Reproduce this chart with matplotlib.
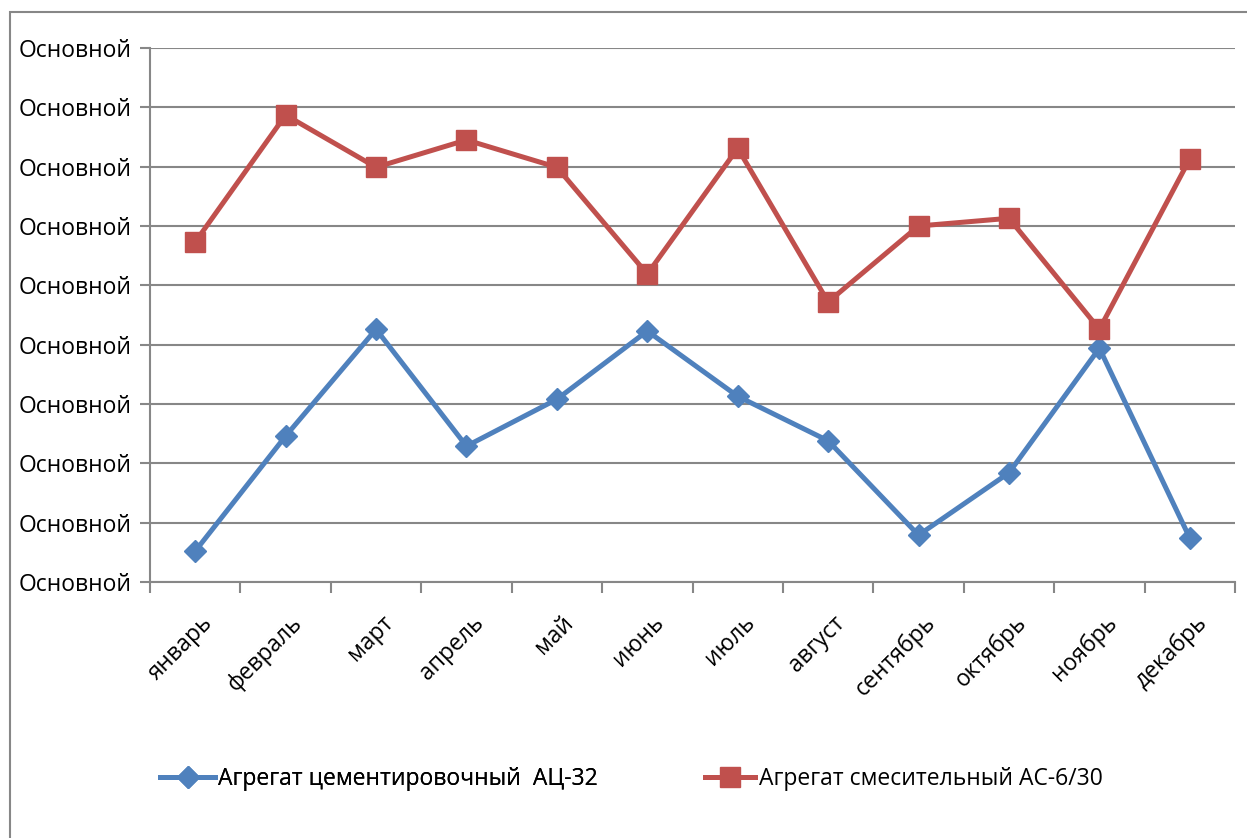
import numpy as np
import matplotlib.pyplot as plt
import matplotlib.transforms as mtransforms
from matplotlib.patches import Rectangle

months = ["январь", "февраль", "март", "апрель", "май", "июнь",
          "июль", "август", "сентябрь", "октябрь", "ноябрь", "декабрь"]
ac32 = [0.52, 2.46, 4.26, 2.29, 3.08, 4.23, 3.13, 2.38, 0.79, 1.84, 3.94, 0.74]
ac630 = [5.73, 7.87, 6.99, 7.45, 6.99, 5.19, 7.31, 4.72, 6.00, 6.13, 4.26, 7.13]
ytick_vals = list(range(10))
ytick_text = ["Основной"] * 10
labels = ["Агрегат цементировочный  АЦ-32", "Агрегат смесительный АС-6/30"]

plt.rcParams['font.family'] = ['Open Sans', 'DejaVu Sans']
grey = '#878787'
fs = 16.5

fig = plt.figure(figsize=(12.47, 8.38), dpi=100)
ax = fig.add_axes([150/1247, 1 - 582/838, (1235-150)/1247, (582-48)/838])

x = np.arange(len(months))
l1, = ax.plot(x, ac32, color='#4F81BD', lw=3.6, marker='D', markersize=11.5,
              solid_joinstyle='round')
l2, = ax.plot(x, ac630, color='#C0504D', lw=3.6, marker='s', markersize=14,
              solid_joinstyle='round')

ax.set_xlim(-0.5, len(months) - 0.5)
ax.set_ylim(0, 9)
ax.set_yticks(ytick_vals)
ax.set_yticklabels(ytick_text, fontsize=fs)
ax.yaxis.grid(True, color=grey, lw=1.5)
ax.set_axisbelow(True)

ax.set_xticks(x)
ax.set_xticklabels(months, rotation=45, ha='right', rotation_mode='anchor', fontsize=fs)
ax.set_xticks(np.arange(-0.5, len(months)), minor=True)
ax.tick_params(axis='x', which='major', length=0, pad=21)
ax.tick_params(axis='x', which='minor', length=8, width=1.5, color=grey)
ax.tick_params(axis='y', length=7, width=1.5, color=grey, pad=6)
shift = mtransforms.ScaledTranslation(0.05, 0, fig.dpi_scale_trans)
for lab in ax.get_xticklabels():
    lab.set_transform(lab.get_transform() + shift)

for s in ['top', 'right']:
    ax.spines[s].set_visible(False)
for s in ['left', 'bottom']:
    ax.spines[s].set_color(grey)
    ax.spines[s].set_linewidth(1.5)

leg1 = fig.legend([l1], [labels[0]], loc='center left',
                  bbox_to_anchor=(160/1247, 1 - 779/838), frameon=False,
                  fontsize=fs, handlelength=2.4, handletextpad=0.15, borderpad=0,
                  borderaxespad=0)
fig.add_artist(leg1)
fig.legend([l2], [labels[1]], loc='center left',
           bbox_to_anchor=(705/1247, 1 - 779/838), frameon=False,
           fontsize=fs, handlelength=2.2, handletextpad=0.15, borderpad=0,
           borderaxespad=0)

fig.patches.append(Rectangle((10/1247, -0.1), 1.2, 1 - 12/838 + 0.1,
                             transform=fig.transFigure, fill=False,
                             edgecolor=grey, lw=1.5))

fig.savefig('out.png', dpi=100)
